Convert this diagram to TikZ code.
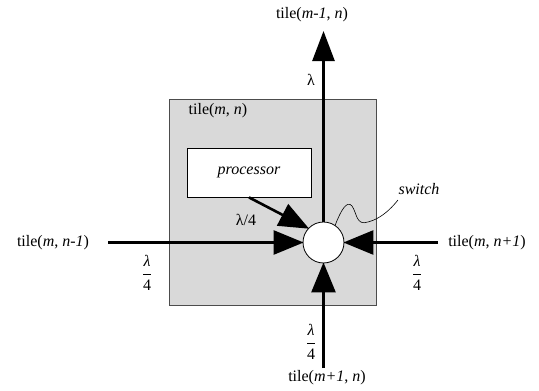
\documentclass[tikz,border=0pt]{standalone}
\usepackage{fontspec}
\setmainfont{Liberation Serif}
\usetikzlibrary{arrows.meta,calc}
\tikzset{
  lbl/.style={font=\fontsize{16}{18}\selectfont, inner sep=0pt},
  flow/.style={line width=2.6pt, -{Triangle[length=30pt,width=22pt]}},
  flowin/.style={line width=2.6pt, -{Triangle[length=30pt,width=24pt]}, shorten >=-1pt},
}
\newcommand{\qfrac}{$\displaystyle\frac{\textit{λ}}{\textrm{4}}$}
\begin{document}
\begin{tikzpicture}[x=1pt,y=-1pt]
\useasboundingbox (0,0) rectangle (539,391);
% tile box
\node[draw=black!70, fill=black!15, line width=0.8pt, minimum width=207pt, minimum height=206pt, inner sep=0pt, anchor=north west] (tile) at (169,99) {};
\node[lbl] (tilelbl) at (218,111) {tile(\textit{m}, \textit{n})};
% processor
\node[draw, fill=white, line width=0.8pt, minimum width=124pt, minimum height=49pt, inner sep=0pt] (proc) at (249,172.5) {};
\node[lbl] (proclbl) at (249,172.5) {\textit{processor}};
% switch
\node[draw, fill=white, circle, line width=0.8pt, minimum size=41pt, inner sep=0pt] (sw) at (323.5,242.5) {};
% free ends
\coordinate (T) at (323.5,31);
\coordinate (L) at (108,242.5);
\coordinate (R) at (438,242.5);
\coordinate (B) at (323.5,368);
% connectors
\draw[flow] (sw.north) -- (T);
\draw[flowin] (L) -- (sw.west);
\draw[flowin] (R) -- (sw.east);
\draw[flowin] (B) -- (sw.south);
\draw[flowin] (proc.south) -- (sw.137);
\draw[line width=0.6pt] (sw.56) .. controls (341,210) and (347,200) .. (352,206)
  .. controls (357,213) and (356,226) .. (368,222) .. controls (380,219) and (390,210) .. (398,200);
% labels
\node[lbl] (ltop) at (312,14.5) {tile(\textit{m-1}, \textit{n})};
\node[lbl] (lleft) at (53,243) {tile(\textit{m}, \textit{n-1})};
\node[lbl] (lright) at (487,243) {tile(\textit{m}, \textit{n+1})};
\node[lbl] (lbot) at (327,378) {tile(\textit{m+1}, \textit{n})};
\node[lbl] (lam) at (311,80) {λ};
\node[lbl] (lam4) at (246,220) {λ/4};
\node[lbl] (swlbl) at (419,189) {\textit{switch}};
\node[lbl] (fl) at (147,273) {\qfrac};
\node[lbl] (fr) at (417,273) {\qfrac};
\node[lbl] (fb) at (311,342) {\qfrac};
\end{tikzpicture}
\end{document}
